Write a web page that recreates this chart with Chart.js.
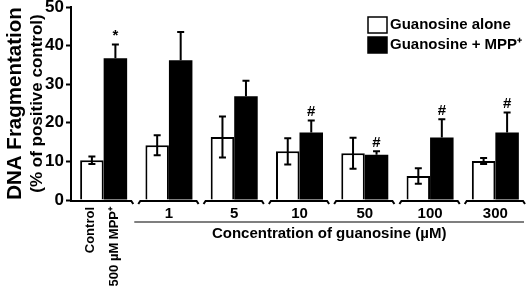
<!DOCTYPE html>
<html>
<head>
<meta charset="utf-8">
<script src="https://cdn.jsdelivr.net/npm/chart.js@4"></script>
<style>
  html, body { margin: 0; padding: 0; background: #fff; }
  #wrap { width: 529px; height: 289px; position: relative; }
</style>
</head>
<body>
<div id="wrap"><canvas id="chartCanvas"></canvas></div>
<script>
// values (% of positive control)
const categories = ["Control", "1", "5", "10", "50", "100", "300"];
const firstGroupLabels = ["Control", "500 \u00b5M MPP\u207a"];
const aloneValues = [10.3, 14.2, 16.3, 12.6, 12.1, 6.2, 10.1];
const aloneErrors = [1.0, 2.6, 5.3, 3.4, 4.0, 2.0, 0.8];
const mppValues = [36.7, 36.2, 26.9, 17.5, 11.7, 16.2, 17.5];
const mppErrors = [3.6, 7.3, 4.0, 3.1, 0.9, 4.7, 5.2];
const mppMarks = ["*", "", "", "#", "#", "#", "#"];
const yTicks = [0, 10, 20, 30, 40, 50];

const FONT = "'Liberation Sans', Arial, Helvetica, sans-serif";

// error bars, significance marks, broken x axis, legend, titles
const decorations = {
    id: "decorations",
    afterDatasetsDraw(chart) {
        const ctx = chart.ctx;
        const y = chart.scales.y;
        const area = chart.chartArea;
        const w = (area.right - area.left) / categories.length;
        ctx.save();
        ctx.strokeStyle = "#000";
        ctx.fillStyle = "#000";
        ctx.lineWidth = 2;

        const errSets = [aloneErrors, mppErrors];
        chart.data.datasets.forEach((ds, di) => {
            const meta = chart.getDatasetMeta(di);
            meta.data.forEach((bar, i) => {
                const v = ds.data[i];
                const top = y.getPixelForValue(v + errSets[di][i]);
                const bottom = di === 0 ? y.getPixelForValue(v - errSets[di][i]) : bar.y;
                ctx.beginPath();
                ctx.moveTo(bar.x, top);
                ctx.lineTo(bar.x, bottom);
                ctx.moveTo(bar.x - 3.5, top);
                ctx.lineTo(bar.x + 3.5, top);
                if (di === 0) {
                    ctx.moveTo(bar.x - 3.5, bottom);
                    ctx.lineTo(bar.x + 3.5, bottom);
                }
                ctx.stroke();
                if (di === 1 && mppMarks[i]) {
                    ctx.font = "bold 15px " + FONT;
                    ctx.textAlign = "center";
                    ctx.textBaseline = "bottom";
                    ctx.fillText(mppMarks[i], bar.x, top - 1);
                }
            });
        });

        // broken baseline, one piece per group
        const y0 = y.getPixelForValue(0) + 1;
        ctx.lineWidth = 2;
        for (let i = 0; i < categories.length; i++) {
            const a = area.left + i * w + (i === 0 ? -1 : 2);
            const b = area.left + (i + 1) * w - 3;
            ctx.beginPath();
            if (i > 0) {
                ctx.moveTo(a, y0 + 3);
                ctx.lineTo(a + 2, y0);
            } else {
                ctx.moveTo(a, y0);
            }
            ctx.lineTo(b - 2, y0);
            ctx.lineTo(b, y0 + 3);
            ctx.stroke();
        }

        // rotated labels for the first group
        ctx.font = "bold 13px " + FONT;
        ctx.textAlign = "right";
        ctx.textBaseline = "middle";
        [0, 1].forEach((di) => {
            const bar = chart.getDatasetMeta(di).data[0];
            ctx.save();
            ctx.translate(bar.x - 1, y0 + 6);
            ctx.rotate(-Math.PI / 2);
            ctx.fillText(firstGroupLabels[di], 0, 0);
            ctx.restore();
        });

        // group line and x title
        const lineL = area.left + w - 2;
        const lineR = area.right - 4;
        ctx.strokeStyle = "#555";
        ctx.lineWidth = 1.5;
        ctx.beginPath();
        ctx.moveTo(lineL, y0 + 21);
        ctx.lineTo(lineR, y0 + 21);
        ctx.stroke();
        ctx.font = "bold 15px " + FONT;
        ctx.textAlign = "center";
        ctx.textBaseline = "middle";
        ctx.fillText("Concentration of guanosine (\u00b5M)", (lineL + lineR) / 2, y0 + 33);

        // y titles
        const midY = (area.top + area.bottom) / 2;
        ctx.save();
        ctx.translate(15, midY);
        ctx.rotate(-Math.PI / 2);
        ctx.font = "bold 20.5px " + FONT;
        ctx.fillText("DNA Fragmentation", 0, 0);
        ctx.restore();
        ctx.save();
        ctx.translate(37, midY);
        ctx.rotate(-Math.PI / 2);
        ctx.font = "bold 17px " + FONT;
        ctx.fillText("(% of positive control)", 0, 0);
        ctx.restore();

        // legend
        ctx.font = "bold 15px " + FONT;
        ctx.textAlign = "left";
        chart.data.datasets.forEach((ds, di) => {
            const ly = 17 + di * 20;
            ctx.fillStyle = ds.backgroundColor;
            ctx.fillRect(368, ly, 19, 16);
            ctx.strokeStyle = "#000";
            ctx.lineWidth = 1.5;
            ctx.strokeRect(368, ly, 19, 16);
            ctx.fillStyle = "#000";
            ctx.fillText(ds.label, 390, ly + 8);
        });
        ctx.restore();
    }
};

new Chart(document.getElementById("chartCanvas"), {
    type: "bar",
    data: {
        labels: categories,
        datasets: [
            {
                label: "Guanosine alone",
                data: aloneValues,
                backgroundColor: "#ffffff",
                borderColor: "#000",
                borderWidth: 2,
                borderSkipped: "bottom",
                categoryPercentage: 0.72,
                barPercentage: 1.0
            },
            {
                label: "Guanosine + MPP\u207a",
                data: mppValues,
                backgroundColor: "#000000",
                borderColor: "#000",
                borderWidth: 0,
                categoryPercentage: 0.72,
                barPercentage: 1.0
            }
        ]
    },
    options: {
        responsive: true,
        maintainAspectRatio: false,
        animation: false,
        layout: { padding: { top: 7, right: 1, left: 0, bottom: 0 } },
        plugins: { legend: { display: false }, tooltip: { enabled: false } },
        scales: {
            x: {
                afterFit: (s) => { s.height = 89; },
                grid: { display: false, drawTicks: false },
                border: { display: false },
                ticks: {
                    padding: 5,
                    color: "#000",
                    font: { family: FONT, size: 15, weight: "bold" },
                    callback: (v, i) => (i === 0 ? "" : categories[i])
                }
            },
            y: {
                min: 0,
                max: 50,
                afterFit: (s) => { s.width = 71; s.paddingTop = 0; s.paddingBottom = 0; },
                afterBuildTicks: (s) => { s.ticks = yTicks.map((v) => ({ value: v })); },
                grid: { drawOnChartArea: false, drawTicks: true, tickLength: 5, tickWidth: 2, color: "#000" },
                border: { display: true, width: 2, color: "#000" },
                ticks: {
                    padding: 2,
                    color: "#000",
                    font: { family: FONT, size: 17, weight: "bold" }
                }
            }
        }
    },
    plugins: [decorations]
});
</script>
</body>
</html>
